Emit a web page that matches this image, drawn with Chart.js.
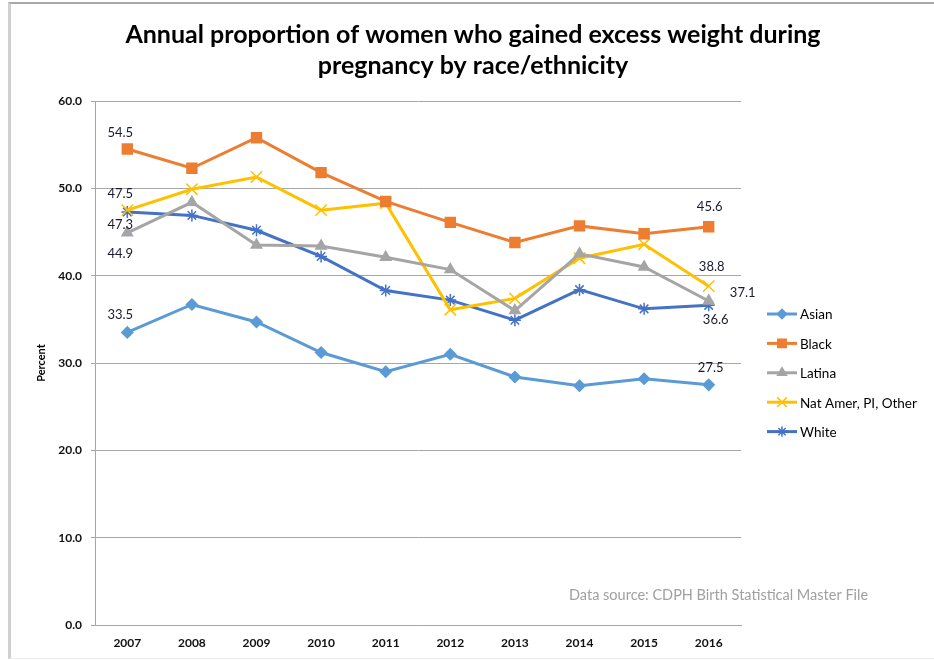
<!DOCTYPE html>
<html>
<head>
<meta charset="utf-8">
<script src="https://cdn.jsdelivr.net/npm/chart.js@4.4.1/dist/chart.umd.min.js"></script>
<style>
  html, body { margin: 0; padding: 0; background: #fff; }
  #wrap { position: relative; width: 934px; height: 660px; }
  #frame {
    position: absolute; left: 8px; top: 2px; right: 0; bottom: 1px;
    border-top: 2px solid #a8a8a8;
    border-left: 3px solid #d0d0d0;
    border-bottom: 1px solid #ececec;
    pointer-events: none;
  }
  canvas { position: absolute; left: 0; top: 0; }
</style>
</head>
<body>
<div id="wrap">
  <canvas id="weightChart" width="934" height="660"></canvas>
  <div id="frame"></div>
</div>
<script>
// data
const years = ["2007", "2008", "2009", "2010", "2011", "2012", "2013", "2014", "2015", "2016"];
const asian   = [33.5, 36.7, 34.7, 31.2, 29.0, 31.0, 28.4, 27.4, 28.2, 27.5];
const black   = [54.5, 52.3, 55.8, 51.8, 48.5, 46.1, 43.8, 45.7, 44.8, 45.6];
const latina  = [44.9, 48.4, 43.5, 43.4, 42.1, 40.7, 36.0, 42.5, 41.0, 37.1];
const natAmer = [47.5, 49.9, 51.3, 47.5, 48.3, 36.1, 37.4, 42.0, 43.6, 38.8];
const white   = [47.3, 46.9, 45.2, 42.2, 38.3, 37.2, 34.9, 38.4, 36.2, 36.6];
const yTicks  = [0, 10, 20, 30, 40, 50, 60];
const titleLines = ["Annual proportion of women who gained excess weight during", "pregnancy by race/ethnicity"];
const sourceNote = "Data source: CDPH Birth Statistical Master File";

const FONT = "Lato, 'Open Sans', sans-serif";
const GRID = "#a6a6a6";

// which points carry a value label, and where the label sits relative to the point
const valueLabels = [
    { ds: 0, i: 0, dx: -7, dy: -18 },
    { ds: 0, i: 9, dx: 2,  dy: -17 },
    { ds: 1, i: 0, dx: -7, dy: -16 },
    { ds: 1, i: 9, dx: 1,  dy: -20 },
    { ds: 2, i: 0, dx: -7, dy: 21 },
    { ds: 2, i: 9, dx: 34, dy: -8 },
    { ds: 3, i: 0, dx: -7, dy: -16 },
    { ds: 3, i: 9, dx: 3,  dy: -19 },
    { ds: 4, i: 0, dx: -7, dy: 13 },
    { ds: 4, i: 9, dx: 7,  dy: 14 }
];

function series(label, data, color, pointStyle, radius) {
    return {
        label: label,
        data: data,
        borderColor: color,
        backgroundColor: color,
        borderWidth: 3,
        tension: 0,
        fill: false,
        pointStyle: pointStyle,
        pointRadius: radius,
        pointHoverRadius: radius,
        pointBorderWidth: 1.5,
        pointBackgroundColor: color,
        pointBorderColor: color
    };
}

const datasets = [
    series("Asian", asian, "#5b9bd5", "rectRot", 5.5),
    series("Black", black, "#ed7d31", "rect", 7),
    series("Latina", latina, "#a5a5a5", "triangle", 6),
    series("Nat Amer, PI, Other", natAmer, "#ffc000", "crossRot", 8),
    series("White", white, "#4472c4", "star", 6)
];

const extrasPlugin = {
    id: "extras",
    afterDatasetsDraw(chart) {
        const ctx = chart.ctx;
        const area = chart.chartArea;
        ctx.save();

        // title, centred on the whole picture
        ctx.font = "bold 25px " + FONT;
        ctx.fillStyle = "#000";
        ctx.textAlign = "center";
        ctx.textBaseline = "middle";
        ctx.fillText(titleLines[0], 473, 35);
        ctx.fillText(titleLines[1], 473, 66);

        // value labels
        ctx.font = "13px " + FONT;
        ctx.fillStyle = "#1a1a2e";
        valueLabels.forEach(l => {
            const pt = chart.getDatasetMeta(l.ds).data[l.i];
            const v = chart.data.datasets[l.ds].data[l.i];
            ctx.fillText(v.toFixed(1), pt.x + l.dx, pt.y + l.dy);
        });

        // legend: line + marker + name
        const lx = area.right + 26;
        const lw = 30;
        let ly = area.top + 213;
        chart.data.datasets.forEach(ds => {
            ctx.strokeStyle = ds.borderColor;
            ctx.lineWidth = 3;
            ctx.beginPath();
            ctx.moveTo(lx, ly);
            ctx.lineTo(lx + lw, ly);
            ctx.stroke();
            ctx.fillStyle = ds.borderColor;
            ctx.lineWidth = 1.5;
            Chart.helpers.drawPoint(ctx, { pointStyle: ds.pointStyle, radius: ds.pointRadius * 0.85, borderWidth: 1.5, rotation: 0 }, lx + lw / 2, ly);
            ctx.fillStyle = "#000";
            ctx.font = "13.5px " + FONT;
            ctx.textAlign = "left";
            ctx.fillText(ds.label, lx + lw + 3, ly + 1);
            ly += 29.4;
        });

        // source note
        ctx.font = "14.5px " + FONT;
        ctx.fillStyle = "#a0a0a0";
        ctx.textAlign = "left";
        ctx.fillText(sourceNote, 569, 595);
        ctx.restore();
    }
};

const ctx = document.getElementById("weightChart").getContext("2d");
new Chart(ctx, {
    type: "line",
    data: { labels: years, datasets: datasets },
    options: {
        responsive: false,
        animation: false,
        layout: { padding: { left: 0, right: 193, top: 101, bottom: 0 } },
        plugins: {
            legend: { display: false },
            tooltip: { enabled: false },
            title: { display: false }
        },
        scales: {
            x: {
                offset: true,
                grid: { display: false, drawTicks: false },
                border: { display: true, color: GRID, width: 1 },
                ticks: { color: "#111", padding: 11, font: { family: FONT, size: 12, weight: "bold" } },
                afterFit(scale) { scale.height = 35; }
            },
            y: {
                min: 0,
                max: 60,
                afterBuildTicks(scale) { scale.ticks = yTicks.map(v => ({ value: v })); },
                grid: { color: GRID, lineWidth: 1, tickLength: 4 },
                border: { display: true, color: GRID, width: 1 },
                ticks: {
                    color: "#111",
                    padding: 9,
                    font: { family: FONT, size: 12, weight: "bold" },
                    callback: v => Number(v).toFixed(1)
                },
                title: {
                    display: true,
                    text: "Percent",
                    color: "#000",
                    font: { family: FONT, size: 11, weight: "bold" },
                    padding: { top: 35, bottom: 0 }
                },
                afterFit(scale) { scale.width = 95; }
            }
        }
    },
    plugins: [extrasPlugin]
});
</script>
</body>
</html>
